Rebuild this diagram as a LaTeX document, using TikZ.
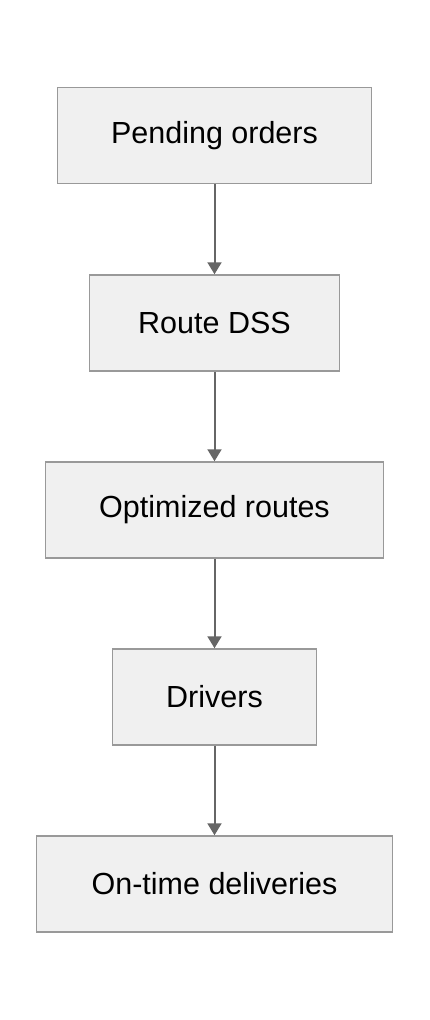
\documentclass[tikz,border=0pt]{standalone}
\usepackage{fontspec}
\setmainfont{Liberation Sans}
\usetikzlibrary{arrows.meta}
\tikzset{
  stage/.style={draw=black!40, fill=black!6, line width=1.5pt, minimum height=96pt, font=\fontsize{30.5}{34}\selectfont},
  flow/.style={draw=black!60, line width=2pt, -{Triangle[length=12pt,width=14pt]}}
}
\begin{document}
\begin{tikzpicture}[x=1pt,y=1pt]
  \useasboundingbox (0,0) rectangle (430,-1020);
  \draw
    (214.5,-135.5) node[stage, minimum width=314pt] (po){Pending orders}
    (214.5,-323) node[stage, minimum width=250pt] (dss){Route DSS}
    (214.5,-510) node[stage, minimum width=338pt] (opt){Optimized routes}
    (214.5,-697) node[stage, minimum width=204pt] (drv){Drivers}
    (214.5,-884) node[stage, minimum width=356pt] (otd){On-time deliveries};
  \begin{scope}[flow]
    \draw (po) to (dss);
    \draw (dss) to (opt);
    \draw (opt) to (drv);
    \draw (drv) to (otd);
  \end{scope}
\end{tikzpicture}
\end{document}
